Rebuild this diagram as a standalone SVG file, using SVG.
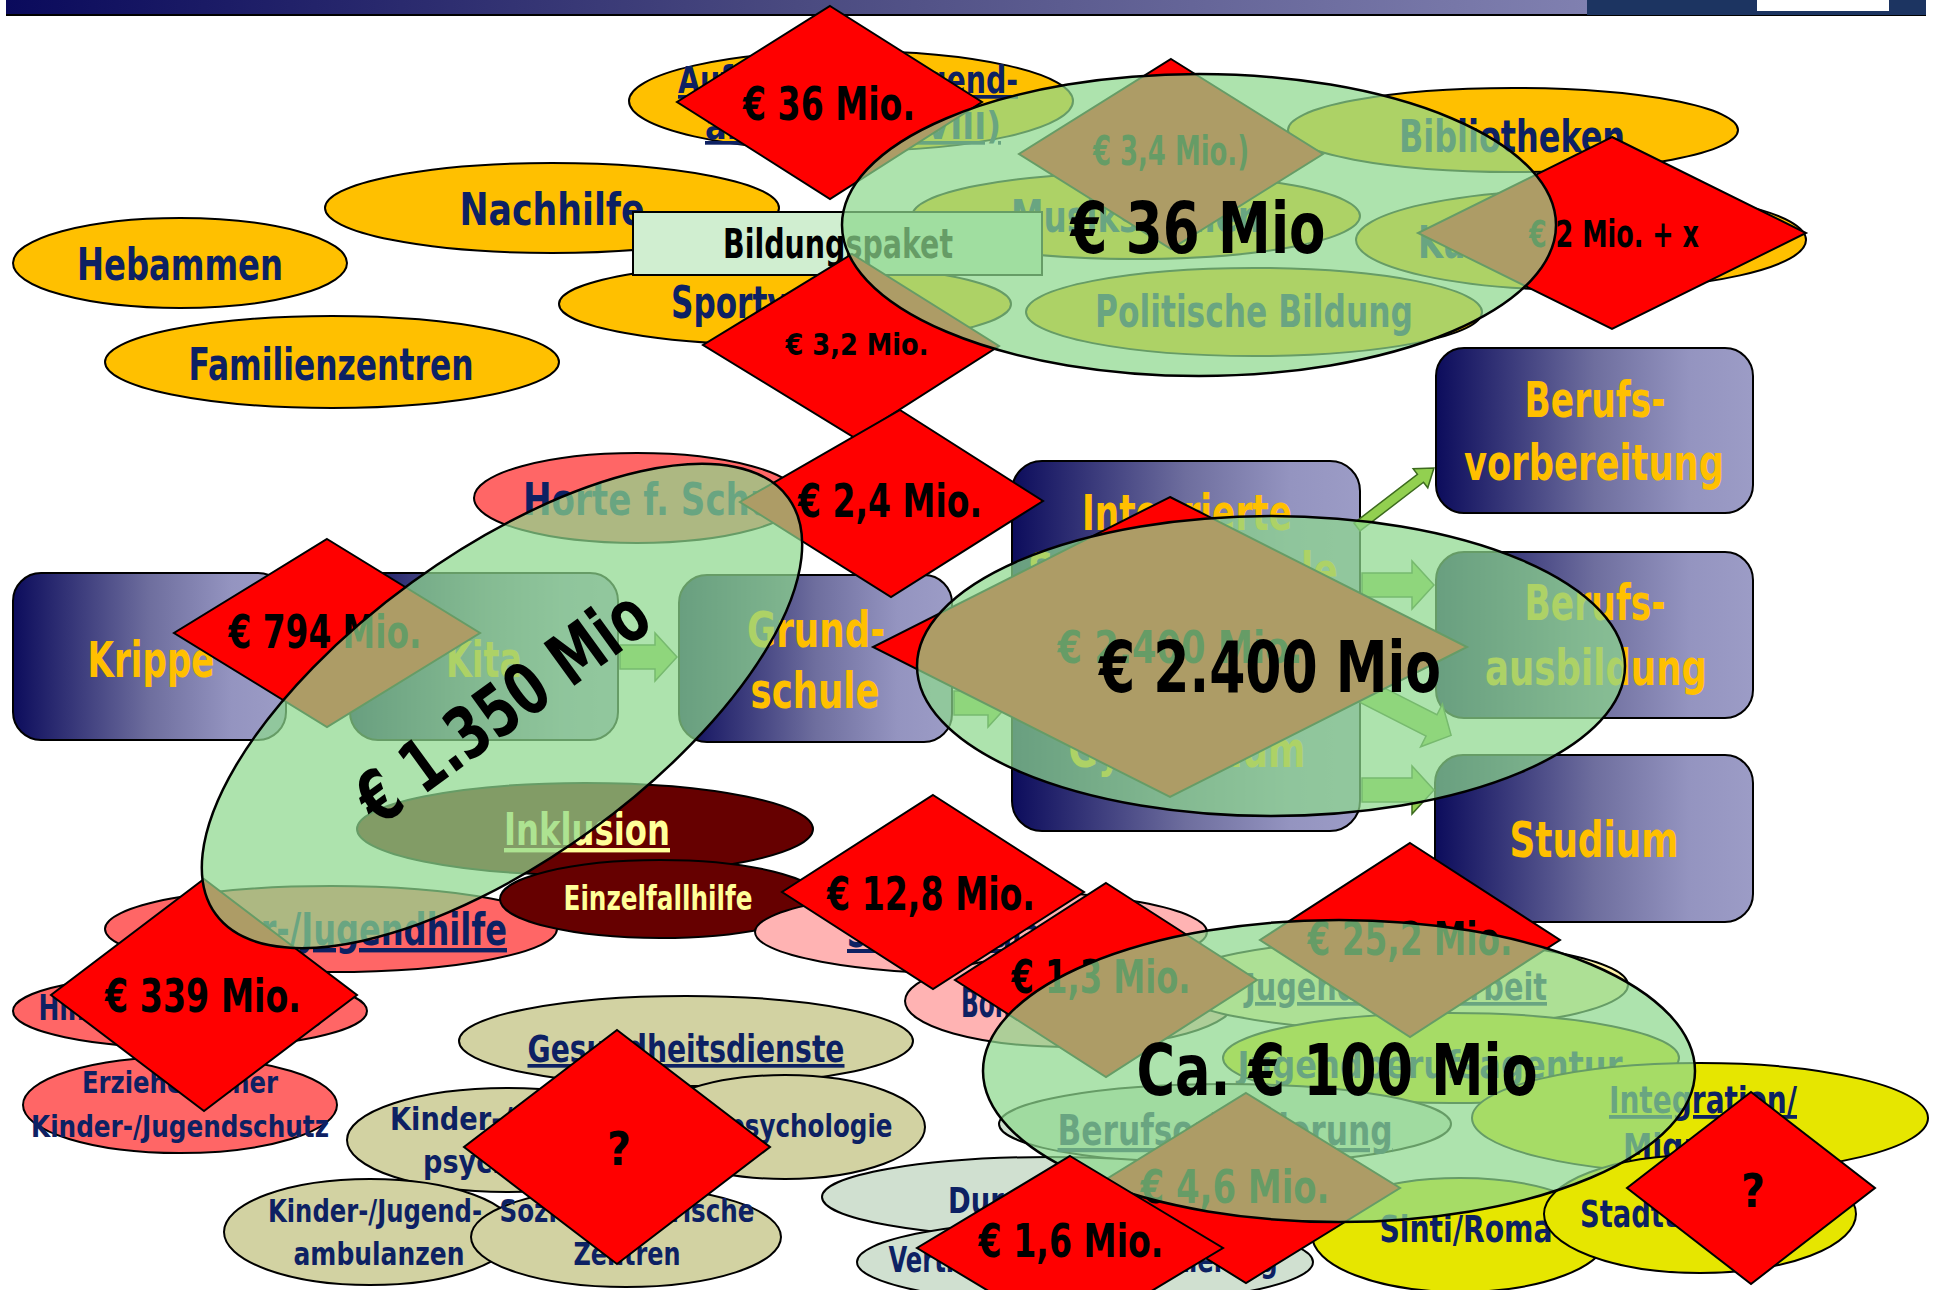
<svg xmlns="http://www.w3.org/2000/svg" width="1933" height="1290" viewBox="0 0 1933 1290">
<defs>
<linearGradient id="hdr" x1="0" x2="1" y1="0" y2="0"><stop offset="0" stop-color="#0a0a5c"/><stop offset="0.5" stop-color="#4a4a80"/><stop offset="1" stop-color="#8080b0"/></linearGradient>
<linearGradient id="bx" x1="0" x2="1" y1="0" y2="0"><stop offset="0" stop-color="#0c0c5c"/><stop offset="0.5" stop-color="#6e6e9e"/><stop offset="0.8" stop-color="#9494c0"/><stop offset="1" stop-color="#9c9cc6"/></linearGradient>
<style>
.t{font-family:'Liberation Sans Narrow','DejaVu Sans Condensed','Open Sans',sans-serif;font-weight:bold;text-anchor:middle}
.u{text-decoration:underline}
.nv{fill:#0d2163}
.bk{fill:#000}
.gd{fill:#ffc000}
.ly{fill:#ffff99}
.yel{fill:#ffc000;stroke:#000;stroke-width:2}
.sal{fill:#ff6666;stroke:#000;stroke-width:2}
.pnk{fill:#ffb3b3;stroke:#000;stroke-width:2}
.drd{fill:#660000;stroke:#000;stroke-width:2}
.kh{fill:#d2d2a2;stroke:#000;stroke-width:2}
.gg{fill:#d0e0d0;stroke:#000;stroke-width:2}
.yy{fill:#e6e600;stroke:#000;stroke-width:2}
.cr{fill:#fff4a8;stroke:#000;stroke-width:2}
.dia{fill:#ff0000;stroke:#000;stroke-width:2}
.ov{fill:#8ed88e;fill-opacity:.72;stroke:#000;stroke-width:2.5}
.box{fill:url(#bx);stroke:#000;stroke-width:2}
.arr{fill:#92d050;stroke:#3d6b1f;stroke-width:1.5}
.pap{fill:#d0eed0;stroke:#000;stroke-width:2}
</style>
</defs>

<g id="header">
<rect x="6" y="0" width="1920" height="16" fill="#000"/>
<rect x="6" y="0" width="1581" height="14" fill="url(#hdr)"/>
<rect x="1587" y="0" width="339" height="15" fill="#1c3461"/>
<rect x="1757" y="0" width="132" height="11" fill="#fff"/>
</g>

<g id="n-aufsuchende"><ellipse class="yel" cx="851" cy="101" rx="222" ry="50"/>
<text class="t nv u" x="848" y="93" font-size="37" textLength="340" lengthAdjust="spacingAndGlyphs">Aufsuchende Jugend-</text>
<text class="t nv u" x="853" y="139" font-size="37" textLength="296" lengthAdjust="spacingAndGlyphs">arbeit (SGB VIII)</text></g>
<g id="n-nachhilfe"><ellipse class="yel" cx="552" cy="208" rx="227" ry="45"/>
<text class="t nv" x="552" y="225" font-size="45" textLength="185" lengthAdjust="spacingAndGlyphs">Nachhilfe</text></g>
<g id="n-hebammen"><ellipse class="yel" cx="180" cy="263" rx="167" ry="45"/>
<text class="t nv" x="180" y="280" font-size="45" textLength="206" lengthAdjust="spacingAndGlyphs">Hebammen</text></g>
<g id="n-familienzentren"><ellipse class="yel" cx="332" cy="362" rx="227" ry="46"/>
<text class="t nv" x="331" y="380" font-size="45" textLength="285" lengthAdjust="spacingAndGlyphs">Familienzentren</text></g>
<g id="n-sport"><ellipse class="yel" cx="785" cy="304" rx="226" ry="41"/>
<text class="t nv" x="785" y="318" font-size="45" textLength="228" lengthAdjust="spacingAndGlyphs">Sportvereine</text></g>
<g id="n-musik"><ellipse class="yel" cx="1136" cy="216" rx="224" ry="43"/>
<text class="t nv" x="1136" y="232" font-size="45" textLength="250" lengthAdjust="spacingAndGlyphs">Musikschulen</text></g>
<g id="n-bibliotheken"><ellipse class="yel" cx="1513" cy="130" rx="225" ry="42"/>
<text class="t nv" x="1512" y="152" font-size="45" textLength="226" lengthAdjust="spacingAndGlyphs">Bibliotheken</text></g>
<g id="n-kultur"><ellipse class="yel" cx="1581" cy="240" rx="225" ry="50"/>
<text class="t nv" x="1583" y="258" font-size="45" textLength="330" lengthAdjust="spacingAndGlyphs">Kulturelle Bildung</text></g>
<g id="n-politische"><ellipse class="yel" cx="1254" cy="312" rx="228" ry="44"/>
<text class="t nv" x="1254" y="327" font-size="45" textLength="318" lengthAdjust="spacingAndGlyphs">Politische Bildung</text></g>

<g id="n-bildungspaket"><rect class="pap" x="633" y="212" width="409" height="63"/>
<text class="t bk" x="838" y="258" font-size="40" textLength="230" lengthAdjust="spacingAndGlyphs">Bildungspaket</text></g>

<g id="n-krippe"><rect class="box" x="13" y="573" width="273" height="167" rx="28"/>
<text class="t gd" x="151" y="677" font-size="50" textLength="127" lengthAdjust="spacingAndGlyphs">Krippe</text></g>
<g id="n-kita"><rect class="box" x="350" y="573" width="268" height="167" rx="28"/>
<text class="t gd" x="484" y="677" font-size="50" textLength="76" lengthAdjust="spacingAndGlyphs">Kita</text></g>
<g id="n-grundschule"><rect class="box" x="679" y="575" width="273" height="167" rx="28"/>
<text class="t gd" x="816" y="647" font-size="50" textLength="138" lengthAdjust="spacingAndGlyphs">Grund-</text>
<text class="t gd" x="815" y="708" font-size="50" textLength="129" lengthAdjust="spacingAndGlyphs">schule</text></g>
<g id="n-integrierte"><rect class="box" x="1012" y="461" width="348" height="370" rx="30"/>
<text class="t gd" x="1187" y="530" font-size="50" textLength="210" lengthAdjust="spacingAndGlyphs">Integrierte</text>
<text class="t gd" x="1183" y="588" font-size="50" textLength="310" lengthAdjust="spacingAndGlyphs">Stadtteilschule</text>
<text class="t gd" x="1187" y="767" font-size="50" textLength="237" lengthAdjust="spacingAndGlyphs">Gymnasium</text></g>
<g id="n-berufsvorbereitung"><rect class="box" x="1436" y="348" width="317" height="165" rx="28"/>
<text class="t gd" x="1595" y="417" font-size="50" textLength="141" lengthAdjust="spacingAndGlyphs">Berufs-</text>
<text class="t gd" x="1594" y="480" font-size="50" textLength="260" lengthAdjust="spacingAndGlyphs">vorbereitung</text></g>
<g id="n-berufsausbildung"><rect class="box" x="1436" y="552" width="317" height="166" rx="28"/>
<text class="t gd" x="1595" y="620" font-size="50" textLength="141" lengthAdjust="spacingAndGlyphs">Berufs-</text>
<text class="t gd" x="1596" y="685" font-size="50" textLength="222" lengthAdjust="spacingAndGlyphs">ausbildung</text></g>
<g id="n-studium"><rect class="box" x="1435" y="755" width="318" height="167" rx="28"/>
<text class="t gd" x="1594" y="857" font-size="50" textLength="169" lengthAdjust="spacingAndGlyphs">Studium</text></g>

<g id="connectors">
<polygon class="arr" points="288,645 326,645 326,633 348,657 326,681 326,669 288,669"/>
<polygon class="arr" points="620,645 655,645 655,633 677,657 655,681 655,669 620,669"/>
<polygon class="arr" points="954,691 988,691 988,679 1010,703 988,727 988,715 954,715"/>
<polygon class="arr" points="1362,573 1412,573 1412,561 1434,585 1412,609 1412,597 1362,597"/>
<polygon class="arr" points="1362,778 1412,778 1412,766 1434,790 1412,814 1412,802 1362,802"/>
<polygon class="arr" transform="translate(1362,690) rotate(27)" points="0,-12 78,-12 78,-24 100,0 78,24 78,12 0,12"/>
<polygon class="arr" stroke="#000" transform="translate(1357,527) rotate(-37.5)" points="0,-5 80,-5 80,-12 97,0 80,12 80,5 0,5"/>
</g>

<g id="n-horte"><ellipse class="sal" cx="637" cy="498" rx="163" ry="45"/>
<text class="t nv" x="716" y="515" font-size="45" textLength="386" lengthAdjust="spacingAndGlyphs">Horte f. Schulkinder</text></g>
<g id="n-kjhilfe"><ellipse class="sal" cx="331" cy="929" rx="226" ry="43"/>
<text class="t nv u" x="332" y="945" font-size="44" textLength="350" lengthAdjust="spacingAndGlyphs">Kinder-/Jugendhilfe</text></g>
<g id="n-hilfen"><ellipse class="sal" cx="190" cy="1011" rx="177" ry="37"/>
<text class="t nv" x="181" y="1020" font-size="35" textLength="285" lengthAdjust="spacingAndGlyphs">Hilfen zur Erziehung</text></g>
<g id="n-erzieherischer"><ellipse class="sal" cx="180" cy="1105" rx="157" ry="48"/>
<text class="t nv" x="180" y="1093" font-size="31" textLength="196" lengthAdjust="spacingAndGlyphs">Erzieherischer</text>
<text class="t nv" x="180" y="1137" font-size="31" textLength="298" lengthAdjust="spacingAndGlyphs">Kinder-/Jugendschutz</text></g>
<g id="n-inklusion"><ellipse class="drd" cx="585" cy="829" rx="228" ry="46"/>
<text class="t ly u" x="587" y="845" font-size="44" textLength="166" lengthAdjust="spacingAndGlyphs">Inklusion</text></g>
<g id="n-einzelfallhilfe"><ellipse class="drd" cx="660" cy="899" rx="160" ry="39"/>
<text class="t ly" x="658" y="910" font-size="33" textLength="189" lengthAdjust="spacingAndGlyphs">Einzelfallhilfe</text></g>
<g id="n-pink1"><ellipse class="pnk" cx="981" cy="932" rx="226" ry="42"/>
<text class="t nv u" x="981" y="947" font-size="40" textLength="268" lengthAdjust="spacingAndGlyphs">Schulsozialarbeit</text></g>
<g id="n-pink2"><ellipse class="pnk" cx="1070" cy="1001" rx="165" ry="46"/>
<text class="t nv" x="1070" y="1017" font-size="40" textLength="218" lengthAdjust="spacingAndGlyphs">Bonusprogramm</text></g>

<g id="n-gesundheit"><ellipse class="kh" cx="686" cy="1041" rx="227" ry="45"/>
<text class="t nv u" x="686" y="1062" font-size="37" textLength="317" lengthAdjust="spacingAndGlyphs">Gesundheitsdienste</text></g>
<g id="n-schulpsych"><ellipse class="kh" cx="785" cy="1127" rx="140" ry="52"/>
<text class="t nv" x="772" y="1137" font-size="32" textLength="241" lengthAdjust="spacingAndGlyphs">Schulpsychologie</text></g>
<g id="n-kjpsych"><ellipse class="kh" cx="507" cy="1140" rx="160" ry="52"/>
<text class="t nv" x="510" y="1130" font-size="32" textLength="240" lengthAdjust="spacingAndGlyphs">Kinder-/Jugend-</text>
<text class="t nv" x="508" y="1173" font-size="32" textLength="170" lengthAdjust="spacingAndGlyphs">psychiatrie</text></g>
<g id="n-ambulanzen"><ellipse class="kh" cx="370" cy="1232" rx="146" ry="53"/>
<text class="t nv" x="375" y="1222" font-size="32" textLength="214" lengthAdjust="spacingAndGlyphs">Kinder-/Jugend-</text>
<text class="t nv" x="379" y="1265" font-size="32" textLength="171" lengthAdjust="spacingAndGlyphs">ambulanzen</text></g>
<g id="n-sozialpaed"><ellipse class="kh" cx="626" cy="1237" rx="155" ry="50"/>
<text class="t nv" x="627" y="1222" font-size="32" textLength="255" lengthAdjust="spacingAndGlyphs">Sozialpädiatrische</text>
<text class="t nv" x="627" y="1265" font-size="32" textLength="107" lengthAdjust="spacingAndGlyphs">Zentren</text></g>

<g id="n-jugendsozialarbeit"><ellipse class="cr" cx="1399" cy="985" rx="229" ry="45"/>
<text class="t nv u" x="1396" y="1000" font-size="37" textLength="302" lengthAdjust="spacingAndGlyphs">Jugendsozialarbeit</text></g>
<g id="n-jugendberufsagentur"><ellipse class="yy" cx="1451" cy="1058" rx="228" ry="45"/>
<text class="t nv" x="1430" y="1078" font-size="37" textLength="385" lengthAdjust="spacingAndGlyphs">Jugendberufsagentur</text></g>
<g id="n-berufsorientierung"><ellipse class="gg" cx="1225" cy="1124" rx="226" ry="40"/>
<text class="t nv u" x="1225" y="1145" font-size="42" textLength="335" lengthAdjust="spacingAndGlyphs">Berufsorientierung</text></g>
<g id="n-du"><ellipse class="gg" cx="1050" cy="1197" rx="228" ry="40"/>
<text class="t nv" x="1050" y="1213" font-size="35" textLength="204" lengthAdjust="spacingAndGlyphs">Durchstarten</text></g>
<g id="n-vertiefte"><ellipse class="gg" cx="1085" cy="1262" rx="228" ry="42"/>
<text class="t nv" x="1083" y="1272" font-size="35" textLength="389" lengthAdjust="spacingAndGlyphs">Vertiefte Berufsorientierung</text></g>
<g id="n-integration"><ellipse class="yy" cx="1700" cy="1118" rx="228" ry="55"/>
<text class="t nv u" x="1703" y="1113" font-size="38" textLength="188" lengthAdjust="spacingAndGlyphs">Integration/</text>
<text class="t nv u" x="1703" y="1160" font-size="38" textLength="160" lengthAdjust="spacingAndGlyphs">Migration</text></g>
<g id="n-sinti"><ellipse class="yy" cx="1460" cy="1235" rx="148" ry="57"/>
<text class="t nv" x="1466" y="1242" font-size="38" textLength="173" lengthAdjust="spacingAndGlyphs">Sinti/Roma</text></g>
<g id="n-stadtteil"><ellipse class="yy" cx="1700" cy="1214" rx="156" ry="59"/>
<text class="t nv" x="1700" y="1227" font-size="38" textLength="240" lengthAdjust="spacingAndGlyphs">Stadtteilmütter</text></g>

<g id="d-36"><polygon class="dia" points="830,6 982,102 830,199 677,102"/>
<text class="t bk" x="829" y="120" font-size="46" textLength="172" lengthAdjust="spacingAndGlyphs">€ 36 Mio.</text></g>
<g id="d-3-4"><polygon class="dia" points="1171,59 1323,154 1171,249 1019,154"/>
<text class="t bk" x="1171" y="165" font-size="40" textLength="156" lengthAdjust="spacingAndGlyphs">€ 3,4 Mio.)</text></g>
<g id="d-2x"><polygon class="dia" points="1612,137 1806,233 1612,329 1418,233"/>
<text class="t bk" x="1614" y="247" font-size="37" textLength="170" lengthAdjust="spacingAndGlyphs">€ 2 Mio. + x</text></g>
<g id="d-3-2"><polygon class="dia" points="852,254 999,346 855,438 703,345"/>
<text class="t bk" x="857" y="355" font-size="30" textLength="143" lengthAdjust="spacingAndGlyphs">€ 3,2 Mio.</text></g>
<g id="d-2-4"><polygon class="dia" points="900,410 1043,501 891,597 740,502"/>
<text class="t bk" x="890" y="517" font-size="46" textLength="184" lengthAdjust="spacingAndGlyphs">€ 2,4 Mio.</text></g>
<g id="d-794"><polygon class="dia" points="327,539 480,633 327,727 174,633"/>
<text class="t bk" x="325" y="648" font-size="46" textLength="193" lengthAdjust="spacingAndGlyphs">€ 794 Mio.</text></g>
<g id="d-2400"><polygon class="dia" points="1170,497 1467,647 1170,797 873,647"/>
<text class="t bk" x="1180" y="663" font-size="44" textLength="245" lengthAdjust="spacingAndGlyphs">€ 2.400 Mio.</text></g>
<g id="d-339"><polygon class="dia" points="204,879 357,995 204,1111 51,995"/>
<text class="t bk" x="203" y="1012" font-size="46" textLength="196" lengthAdjust="spacingAndGlyphs">€ 339 Mio.</text></g>
<g id="d-12-8"><polygon class="dia" points="933,795 1084,892 933,989 782,892"/>
<text class="t bk" x="931" y="910" font-size="46" textLength="208" lengthAdjust="spacingAndGlyphs">€ 12,8 Mio.</text></g>
<g id="d-1-3"><polygon class="dia" points="1106,883 1257,980 1106,1077 955,980"/>
<text class="t bk" x="1101" y="993" font-size="46" textLength="179" lengthAdjust="spacingAndGlyphs">€ 1,3 Mio.</text></g>
<g id="d-25-2"><polygon class="dia" points="1410,843 1560,940 1410,1037 1260,940"/>
<text class="t bk" x="1410" y="955" font-size="46" textLength="205" lengthAdjust="spacingAndGlyphs">€ 25,2 Mio.</text></g>
<g id="d-4-6"><polygon class="dia" points="1246,1093 1400,1188 1246,1283 1092,1188"/>
<text class="t bk" x="1235" y="1203" font-size="46" textLength="189" lengthAdjust="spacingAndGlyphs">€ 4,6 Mio.</text></g>

<g id="o-36"><ellipse class="ov" cx="1199" cy="225" rx="357" ry="151"/>
<text class="t bk" x="1198" y="253" font-size="72" textLength="255" lengthAdjust="spacingAndGlyphs">€ 36 Mio</text></g>
<g id="o-1350" transform="translate(502,706) rotate(-36)"><ellipse class="ov" cx="0" cy="0" rx="354" ry="153"/>
<text class="t bk" x="0" y="26" font-size="72" textLength="342" lengthAdjust="spacingAndGlyphs">€ 1.350 Mio</text></g>
<g id="o-2400"><ellipse class="ov" cx="1271" cy="666" rx="354" ry="150"/>
<text class="t bk" x="1270" y="692" font-size="72" textLength="342" lengthAdjust="spacingAndGlyphs">€ 2.400 Mio</text></g>
<g id="o-100"><ellipse class="ov" cx="1339" cy="1071" rx="356" ry="151"/>
<text class="t bk" x="1337" y="1095" font-size="72" textLength="401" lengthAdjust="spacingAndGlyphs">Ca. € 100 Mio</text></g>

<g id="d-1-6"><polygon class="dia" points="1070,1156 1223,1248 1070,1340 917,1248"/>
<text class="t bk" x="1071" y="1257" font-size="46" textLength="185" lengthAdjust="spacingAndGlyphs">€ 1,6 Mio.</text></g>
<g id="d-q1"><polygon class="dia" points="617,1030 770,1147 617,1264 464,1147"/>
<text class="t bk" x="619" y="1165" font-size="46">?</text></g>
<g id="d-q2"><polygon class="dia" points="1751,1092 1875,1188 1751,1284 1627,1188"/>
<text class="t bk" x="1753" y="1207" font-size="46">?</text></g>
</svg>
